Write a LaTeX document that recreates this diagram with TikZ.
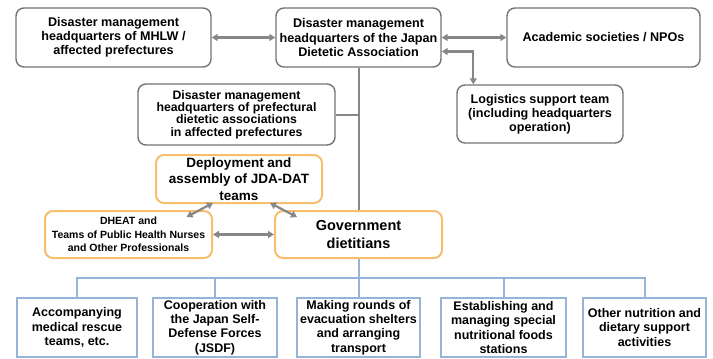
\documentclass[tikz,border=0pt]{standalone}
\usepackage{fontspec}
\setmainfont{Liberation Sans}
\usetikzlibrary{calc,arrows.meta}
\definecolor{boxgray}{RGB}{115,115,115}
\definecolor{arrgray}{RGB}{135,135,135}
\definecolor{boxorange}{RGB}{247,190,110}
\definecolor{boxblue}{RGB}{150,180,215}
\tikzset{
  graybox/.style={draw=boxgray, line width=1.4pt, rounded corners=8pt, align=center, inner sep=2pt,
    font=\fontsize{12.6}{14.2}\selectfont\bfseries, text=black},
  orangebox/.style={draw=boxorange, line width=2pt, rounded corners=8pt, align=center, inner sep=2pt, text=black},
  bluebox/.style={draw=boxblue, line width=2pt, align=center, inner sep=2pt,
    font=\fontsize{12.5}{14.3}\selectfont\bfseries, text=black, minimum height=59pt},
  arr/.style={draw=arrgray, line width=2.2pt, {Triangle[length=6pt,width=7pt]}-{Triangle[length=6pt,width=7pt]}},
  grayline/.style={draw=arrgray, line width=2pt},
  blueline/.style={draw=boxblue, line width=2pt},
}
\begin{document}
\begin{tikzpicture}[x=1pt,y=-1pt]
\useasboundingbox (0,0) rectangle (713,359);
\node[graybox, minimum width=195pt, minimum height=59pt] (mhlw) at (113.5,37.5) {Disaster management\\headquarters of MHLW /\\affected prefectures};
\node[graybox, minimum width=165pt, minimum height=59pt] (jda) at (358.5,37.5) {Disaster management\\headquarters of the Japan\\Dietetic Association};
\node[graybox, minimum width=193pt, minimum height=59pt] (acad) at (603.5,37.5) {Academic societies / NPOs};
\node[graybox, minimum width=166pt, minimum height=58pt] (logi) at (540,114) {Logistics support team\\(including headquarters\\operation)};
\node[graybox, minimum width=197pt, minimum height=61pt, font=\fontsize{12.3}{12.4}\selectfont\bfseries] (pref) at (236.5,114.5) {Disaster management\\headquarters of prefectural\\dietetic associations\\in affected prefectures};
\node[orangebox, minimum width=166pt, minimum height=48pt, font=\fontsize{13.5}{16.3}\selectfont\bfseries] (deploy) at (239,179) {Deployment and\\assembly of JDA-DAT\\teams};
\node[orangebox, minimum width=167pt, minimum height=47pt, font=\fontsize{10.5}{13.3}\selectfont\bfseries] (dheat) at (128.5,234.5) {DHEAT and\\Teams of Public Health Nurses\\and Other Professionals};
\node[orangebox, minimum width=167pt, minimum height=47pt, font=\fontsize{14.5}{17.5}\selectfont\bfseries] (gov) at (358.5,234.5) {Government\\dietitians};
\node[bluebox, minimum width=120pt] (b1) at (77,327.5) {Accompanying\\medical rescue\\teams, etc.};
\node[bluebox, minimum width=124pt] (b2) at (215,327.5) {Cooperation with\\the Japan Self-\\Defense Forces\\(JSDF)};
\node[bluebox, minimum width=123pt] (b3) at (358.5,327.5) {Making rounds of\\evacuation shelters\\and arranging\\transport};
\node[bluebox, minimum width=125pt] (b4) at (503.5,327.5) {Establishing and\\managing special\\nutritional foods\\stations};
\node[bluebox, minimum width=123pt] (b5) at (644.5,327.5) {Other nutrition and\\dietary support\\activities};
\coordinate (bus) at (358.5,278);
% gray connectors
\draw[arr] (mhlw.east) -- (jda.west);
\draw[arr] (jda.east) -- (acad.west);
\draw[arr] ($(jda.east)+(0,14)$) -| ($(logi.north west)+(17,0)$);
\draw[grayline] (jda.south) -- (gov.north);
\draw[grayline] (pref.east) -- (pref.east -| jda.south);
\draw[arr] (dheat.east) -- (gov.west);
\draw[arr] ($(deploy.south)+(-26,-1)$) -- ($(dheat.north)+(58,7)$);
\draw[arr] ($(deploy.south)+(31,-1)$) -- ($(gov.north)+(-61.5,7)$);
% blue tree
\draw[blueline] (gov.south) -- (bus);
\draw[blueline] (b1.north) -- (b1.north |- bus) -- (b5.north |- bus) -- (b5.north);
\draw[blueline] (b2.north) -- (b2.north |- bus);
\draw[blueline] (b3.north) -- (b3.north |- bus);
\draw[blueline] (b4.north) -- (b4.north |- bus);
\end{tikzpicture}
\end{document}
